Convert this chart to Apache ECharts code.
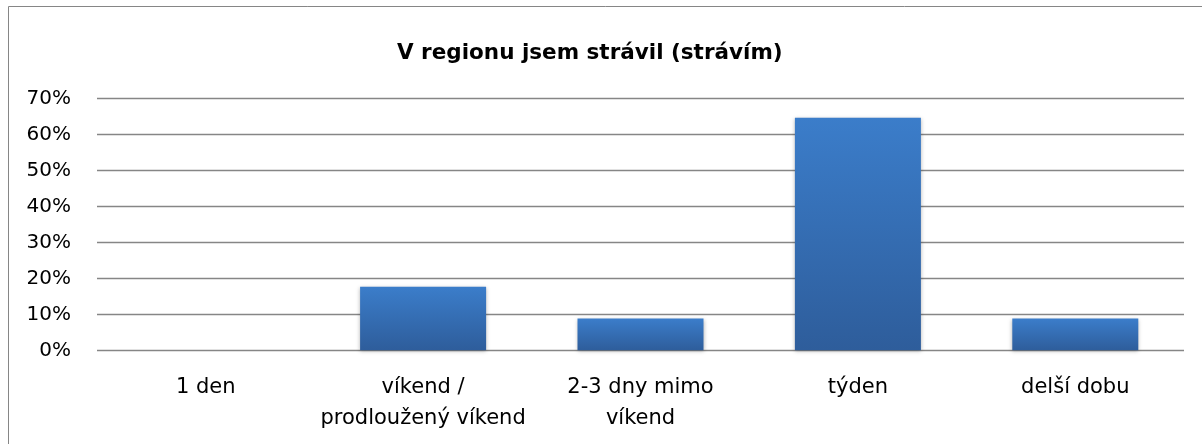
<!DOCTYPE html>
<html>
<head>
<meta charset="utf-8">
<script src="https://cdn.jsdelivr.net/npm/echarts@6/dist/echarts.min.js"></script>
<style>
  html, body { margin: 0; padding: 0; background: #fff; }
  #main { width: 1202px; height: 444px; }
</style>
</head>
<body>
<div id="main"></div>
<script>
// data (share of answers, %)
const categories = ['1 den', 'víkend /\nprodloužený víkend', '2-3 dny mimo\nvíkend', 'týden', 'delší dobu'];
const values = [0, 17.65, 8.82, 64.71, 8.82];
const yTicks = [0, 10, 20, 30, 40, 50, 60, 70];

const chart = echarts.init(document.getElementById('main'));

const option = {
  animation: false,
  title: {
    text: 'V regionu jsem strávil (strávím)',
    left: 397,
    top: 38,
    padding: 0,
    textStyle: {
      fontFamily: 'DejaVu Sans',
      fontWeight: 'bold',
      fontSize: 21.5,
      lineHeight: 30,
      color: '#000'
    }
  },
  graphic: [
    {
      type: 'rect',
      shape: { x: 8.5, y: 6.5, width: 1300, height: 600 },
      style: { fill: 'none', stroke: '#868686', lineWidth: 1 },
      silent: true
    }
  ],
  grid: { left: 97, right: 18, top: 98.7, bottom: 93.7 },
  xAxis: {
    type: 'category',
    data: categories,
    axisLine: { show: false },
    axisTick: { show: false },
    axisLabel: {
      margin: 22,
      interval: 0,
      fontFamily: 'DejaVu Sans',
      fontSize: 21,
      lineHeight: 31,
      color: '#000'
    }
  },
  yAxis: {
    type: 'value',
    min: yTicks[0],
    max: yTicks[yTicks.length - 1],
    interval: 10,
    axisLine: { show: false },
    axisTick: { show: false },
    axisLabel: {
      margin: 26,
      fontFamily: 'DejaVu Sans',
      fontSize: 20,
      color: '#000',
      formatter: v => v + '%'
    },
    splitLine: { lineStyle: { color: '#868686', width: 1.3 } }
  },
  series: [
    {
      type: 'bar',
      data: values,
      barWidth: 126,
      itemStyle: {
        color: new echarts.graphic.LinearGradient(0, 0, 0, 1, [
          { offset: 0, color: '#3b7dca' },
          { offset: 1, color: '#2e5d9b' }
        ]),
        shadowColor: 'rgba(0,0,0,0.3)',
        shadowBlur: 4,
        shadowOffsetY: 1
      }
    }
  ]
};

chart.setOption(option);
</script>
</body>
</html>
